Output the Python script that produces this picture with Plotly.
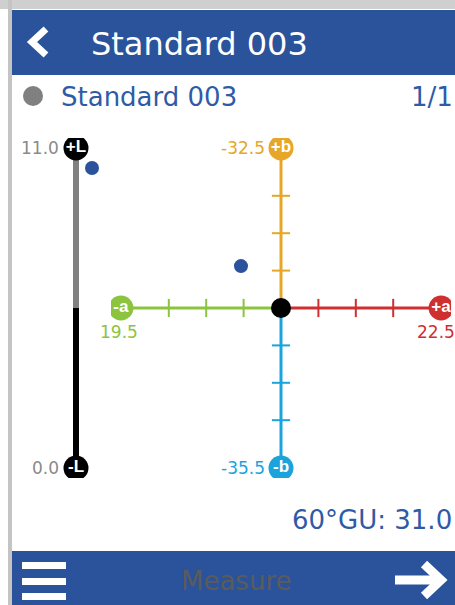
import plotly.graph_objects as go

W, H = 455, 605

# ---------------- data ----------------
TITLE = "Standard 003"
SAMPLE_NAME = "Standard 003"
PAGE = "1/1"
L_TICK_LABELS = ["0.0", "11.0"]          # bottom, top of lightness bar
L_LIMITS = [0.0, 11.0]
A_LABELS = ["19.5", "22.5"]              # -a end, +a end
B_LABELS = ["-35.5", "-32.5"]            # -b end, +b end
AB_TICKS = [1, 2, 3]                     # tick steps on each arm
AB_END = 4.28                            # arm end (circle) position
L_VALUE = [10.31]                        # sample lightness point
A_VALUE = [-1.07]                        # sample a point
B_VALUE = [1.12]                         # sample b point
GU_LABEL = "60°GU: 31.0"
BOTTOM_LABEL = "Measure"

# ---------------- colours ----------------
BLUE = "#2a539c"
TEXT_BLUE = "#2f5ba6"
GREEN = "#8cc43f"
RED = "#cf2f2f"
ORANGE = "#e6a628"
CYAN = "#1ba3dc"
GREYTXT = "#8a8a8a"
FONT = "DejaVu Sans"

def dx(px):
    return px / W

def dy(py):
    return 1 - py / H

fig = go.Figure()

CX, CY, SPAN = 281, 308, 170
UNIT = 37.4
R_AB = SPAN / UNIT
LX = 76
L_PX_PER_UNIT = 320 / (L_LIMITS[1] - L_LIMITS[0])
L_MID = (L_LIMITS[0] + L_LIMITS[1]) / 2
L_HALF = SPAN / L_PX_PER_UNIT

fig.update_layout(
    xaxis=dict(domain=[0, 1], range=[0, W], visible=False, fixedrange=True),
    yaxis=dict(domain=[0, 1], range=[H, 0], visible=False, fixedrange=True),
    xaxis2=dict(domain=[dx(CX - SPAN), dx(CX + SPAN)], range=[-R_AB, R_AB],
                visible=False, anchor="y2"),
    yaxis2=dict(domain=[dy(CY + SPAN), dy(CY - SPAN)], range=[-R_AB, R_AB],
                visible=False, anchor="x2"),
    xaxis3=dict(domain=[dx(LX - 30), dx(LX + 30)], range=[-30, 30],
                visible=False, anchor="y3"),
    yaxis3=dict(domain=[dy(CY + SPAN), dy(CY - SPAN)],
                range=[L_MID - L_HALF, L_MID + L_HALF], visible=False, anchor="x3"),
)

# ---------- chrome shapes ----------
shapes = [
    dict(type="rect", xref="x", yref="y", x0=0, x1=W, y0=0, y1=9,
         fillcolor="#cfcfcf", line_width=0, layer="below"),
    dict(type="rect", xref="x", yref="y", x0=8, x1=12, y0=0, y1=H,
         fillcolor="#c4c4c4", line_width=0, layer="below"),
    dict(type="rect", xref="x", yref="y", x0=12, x1=W, y0=10, y1=75,
         fillcolor=BLUE, line_width=0, layer="below"),
    dict(type="rect", xref="x", yref="y", x0=12, x1=W, y0=551, y1=H,
         fillcolor=BLUE, line_width=0, layer="below"),
    dict(type="circle", xref="x", yref="y", x0=23, x1=43, y0=86, y1=106,
         fillcolor="#808080", line_width=0, layer="below"),
]
for yy in [565.5, 581.5, 596.5]:
    shapes.append(dict(type="line", xref="x", yref="y", x0=22, x1=66, y0=yy, y1=yy,
                       line=dict(color="white", width=7)))
shapes.append(dict(type="path", xref="x", yref="y",
                   path="M 46 29 L 32 42 L 46 55", line=dict(color="white", width=7)))
shapes.append(dict(type="path", xref="x", yref="y",
                   path="M 395 580 L 439 580", line=dict(color="white", width=9)))
shapes.append(dict(type="path", xref="x", yref="y",
                   path="M 424 564 L 441 580 L 424 596", line=dict(color="white", width=9)))
fig.update_layout(shapes=shapes)

# ---------- L bar ----------
fig.add_trace(go.Scatter(x=[0, 0], y=[L_MID, L_LIMITS[1]], xaxis="x3", yaxis="y3",
                         mode="lines", line=dict(color="#808080", width=6),
                         hoverinfo="skip"))
fig.add_trace(go.Scatter(x=[0, 0], y=[L_LIMITS[0], L_MID], xaxis="x3", yaxis="y3",
                         mode="lines", line=dict(color="black", width=6),
                         hoverinfo="skip"))
fig.add_trace(go.Scatter(x=[0, 0], y=L_LIMITS, xaxis="x3", yaxis="y3",
                         mode="markers+text", text=["<b>-L</b>", "<b>+L</b>"],
                         marker=dict(size=25, color="black"),
                         textfont=dict(color="white", size=17, family="Liberation Sans"),
                         textposition="middle center", hoverinfo="skip"))

# ---------- ab arms ----------
arms = [
    ([-AB_END, 0], [0, 0], GREEN),
    ([0, AB_END], [0, 0], RED),
    ([0, 0], [0, AB_END], ORANGE),
    ([0, 0], [-AB_END, 0], CYAN),
]
for xs, ys, c in arms:
    fig.add_trace(go.Scatter(x=xs, y=ys, xaxis="x2", yaxis="y2", mode="lines",
                             line=dict(color=c, width=3), hoverinfo="skip"))

fig.add_trace(go.Scatter(x=[-t for t in AB_TICKS], y=[0] * 3, xaxis="x2", yaxis="y2",
                         mode="markers", marker=dict(symbol="line-ns", size=13,
                         line=dict(color=GREEN, width=2)), hoverinfo="skip"))
fig.add_trace(go.Scatter(x=AB_TICKS, y=[0] * 3, xaxis="x2", yaxis="y2",
                         mode="markers", marker=dict(symbol="line-ns", size=13,
                         line=dict(color=RED, width=2)), hoverinfo="skip"))
fig.add_trace(go.Scatter(x=[0] * 3, y=AB_TICKS, xaxis="x2", yaxis="y2",
                         mode="markers", marker=dict(symbol="line-ew", size=13,
                         line=dict(color=ORANGE, width=2)), hoverinfo="skip"))
fig.add_trace(go.Scatter(x=[0] * 3, y=[-t for t in AB_TICKS], xaxis="x2", yaxis="y2",
                         mode="markers", marker=dict(symbol="line-ew", size=13,
                         line=dict(color=CYAN, width=2)), hoverinfo="skip"))

fig.add_trace(go.Scatter(x=[-AB_END, AB_END, 0, 0], y=[0, 0, AB_END, -AB_END],
                         xaxis="x2", yaxis="y2", mode="markers+text",
                         text=["<b>-a</b>", "<b>+a</b>", "<b>+b</b>", "<b>-b</b>"],
                         marker=dict(size=25, color=[GREEN, RED, ORANGE, CYAN]),
                         textfont=dict(color="white", size=17, family="Liberation Sans"),
                         textposition="middle center", hoverinfo="skip"))
fig.add_trace(go.Scatter(x=[0], y=[0], xaxis="x2", yaxis="y2", mode="markers",
                         marker=dict(size=20, color="black"), hoverinfo="skip"))

fig.add_trace(go.Scatter(x=A_VALUE, y=B_VALUE, xaxis="x2", yaxis="y2", mode="markers",
                         marker=dict(size=14, color=BLUE), hoverinfo="skip"))
fig.add_trace(go.Scatter(x=[16] * len(L_VALUE), y=L_VALUE, xaxis="x3", yaxis="y3",
                         mode="markers", marker=dict(size=14, color=BLUE),
                         hoverinfo="skip"))

# ---------- annotations ----------
ann = []
ann.append(dict(xref="x3", yref="y3", x=0, y=L_LIMITS[1], text=L_TICK_LABELS[1],
                xanchor="right", yanchor="middle", xshift=-15,
                font=dict(family=FONT, size=17, color=GREYTXT), showarrow=False))
ann.append(dict(xref="x3", yref="y3", x=0, y=L_LIMITS[0], text=L_TICK_LABELS[0],
                xanchor="right", yanchor="middle", xshift=-15,
                font=dict(family=FONT, size=17, color=GREYTXT), showarrow=False))
ann.append(dict(xref="x2", yref="y2", x=-AB_END, y=0, text=A_LABELS[0],
                xanchor="center", yanchor="middle", yshift=-24, xshift=-2,
                font=dict(family=FONT, size=17, color=GREEN), showarrow=False))
ann.append(dict(xref="x2", yref="y2", x=AB_END, y=0, text=A_LABELS[1],
                xanchor="right", yanchor="middle", yshift=-24, xshift=16,
                font=dict(family=FONT, size=17, color=RED), showarrow=False))
ann.append(dict(xref="x2", yref="y2", x=0, y=AB_END, text=B_LABELS[1],
                xanchor="right", yanchor="middle", xshift=-14,
                font=dict(family=FONT, size=17, color=ORANGE), showarrow=False))
ann.append(dict(xref="x2", yref="y2", x=0, y=-AB_END, text=B_LABELS[0],
                xanchor="right", yanchor="middle", xshift=-14,
                font=dict(family=FONT, size=17, color=CYAN), showarrow=False))
ann.append(dict(xref="x", yref="y", x=89, y=44, text=TITLE, xanchor="left",
                yanchor="middle", font=dict(family=FONT, size=32, color="white"),
                showarrow=False))
ann.append(dict(xref="x", yref="y", x=59, y=97, text=SAMPLE_NAME, xanchor="left",
                yanchor="middle", font=dict(family=FONT, size=26, color=TEXT_BLUE),
                showarrow=False))
ann.append(dict(xref="x", yref="y", x=455, y=97, text=PAGE, xanchor="right",
                yanchor="middle", font=dict(family=FONT, size=26, color=TEXT_BLUE),
                showarrow=False))
ann.append(dict(xref="x", yref="y", x=454, y=520, text=GU_LABEL, xanchor="right",
                yanchor="middle", font=dict(family=FONT, size=26, color=TEXT_BLUE),
                showarrow=False))
ann.append(dict(xref="x", yref="y", x=236, y=581, text=BOTTOM_LABEL, xanchor="center",
                yanchor="middle", font=dict(family=FONT, size=26, color="#5b5b5b"),
                showarrow=False))
fig.update_layout(annotations=ann)

fig.update_layout(width=W, height=H, margin=dict(l=0, r=0, t=0, b=0),
                  paper_bgcolor="white", plot_bgcolor="rgba(0,0,0,0)",
                  showlegend=False)

fig.write_html("out.html", config={"displayModeBar": False},
               post_script="document.body.style.margin='0';document.body.style.overflow='hidden';")
